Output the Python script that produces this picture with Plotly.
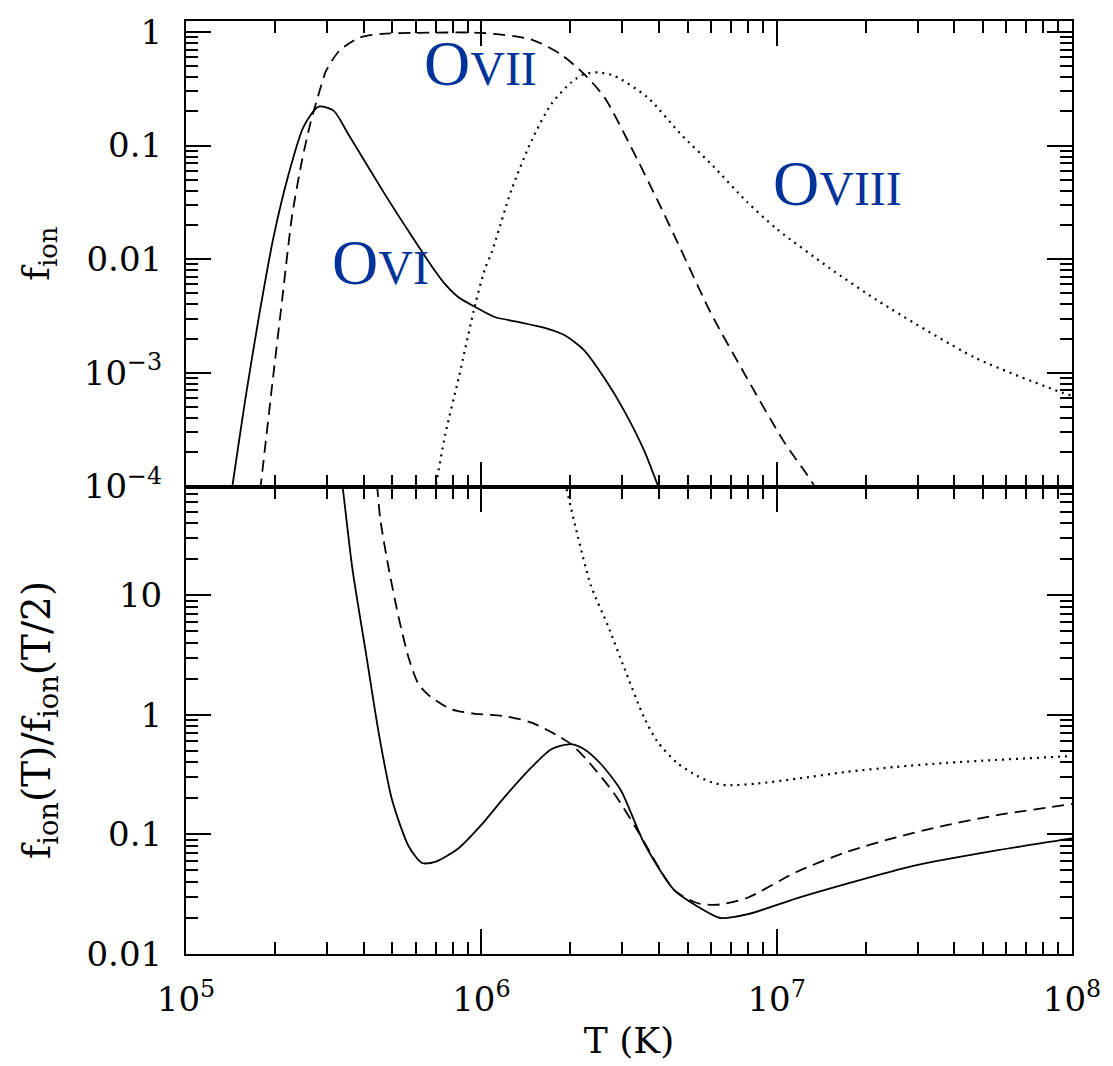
import plotly.graph_objects as go

# ---------------- data ----------------
# Top panel: ionisation fraction f_ion(T)
T_ovi = [1.40e5, 1.435e5, 1.59e5, 1.77e5, 1.98e5, 2.23e5, 2.50e5, 2.81e5, 3.16e5, 3.55e5,
         4.71e5, 5.81e5, 6.81e5, 7.55e5, 8.37e5, 9.53e5, 1.11e6, 1.33e6, 1.64e6, 1.91e6,
         2.23e6, 2.61e6, 3.05e6, 3.56e6, 3.94e6, 4.2e6]
f_ovi = [6.6e-5, 1.0e-4, 6.0e-4, 3.24e-3, 0.0158, 0.057, 0.146, 0.22, 0.203, 0.125,
         0.0374, 0.016, 8.6e-3, 6.0e-3, 4.63e-3, 3.8e-3, 3.1e-3, 2.81e-3, 2.49e-3, 2.15e-3,
         1.58e-3, 9.0e-4, 4.61e-4, 2.07e-4, 1.06e-4, 7.0e-5]

T_ovii = [1.75e5, 1.789e5, 1.959e5, 2.118e5, 2.286e5, 2.472e5, 2.636e5, 2.82e5, 2.98e5, 3.30e5,
          3.85e5, 4.61e5, 5.98e5, 1.0e6, 1.48e6, 1.86e6, 2.23e6, 2.61e6, 3.21e6, 3.94e6,
          4.85e6, 5.96e6, 7.93e6, 1.054e7, 1.327e7, 1.41e7]
f_ovii = [6.3e-5, 1.0e-4, 7.94e-4, 4.47e-3, 0.024, 0.0746, 0.156, 0.29, 0.454, 0.679,
          0.887, 0.962, 0.98, 0.98, 0.857, 0.634, 0.425, 0.266, 0.0975, 0.0334,
          0.0107, 3.43e-3, 9.0e-4, 2.52e-4, 1.06e-4, 7.6e-5]

T_oviii = [6.84e5, 7.0e5, 7.08e5, 7.55e5, 8.38e5, 9.53e5, 1.028e6, 1.084e6, 1.265e6, 1.48e6,
           1.726e6, 2.014e6, 2.23e6, 2.48e6, 2.82e6, 3.65e6, 4.72e6, 6.12e6, 7.93e6, 1.0e7,
           1.507e7, 2.22e7, 4.71e7, 9.25e7, 1.0e8]
f_oviii = [8.0e-5, 1.0e-4, 1.17e-4, 2.88e-4, 9.0e-4, 3.98e-3, 8.2e-3, 0.0115, 0.0408, 0.111,
           0.232, 0.359, 0.425, 0.44, 0.411, 0.266, 0.127, 0.0652, 0.032, 0.0185,
           8.4e-3, 4.25e-3, 1.355e-3, 6.7e-4, 6.3e-4]

# Bottom panel: ratio f_ion(T)/f_ion(T/2)
T_r_ovi = [3.31e5, 3.39e5, 3.66e5, 4.06e5, 4.50e5, 4.99e5, 5.68e5, 6.30e5, 7.06e5, 8.38e5,
           1.0e6, 1.20e6, 1.48e6, 1.726e6, 2.014e6, 2.23e6, 2.54e6, 2.97e6, 3.56e6, 4.49e6,
           5.38e6, 6.44e6, 7.93e6, 1.167e7, 1.72e7, 2.88e7, 5.62e7, 1.0e8]
r_ovi = [125, 81, 16.6, 3.37, 0.689, 0.193, 0.0793, 0.0577, 0.0596, 0.0767,
         0.120, 0.206, 0.365, 0.516, 0.569, 0.516, 0.388, 0.233, 0.0843, 0.0344,
         0.0251, 0.020, 0.0214, 0.0292, 0.0386, 0.0544, 0.0738, 0.0927]

T_r_ovii = [4.37e5, 4.44e5, 4.55e5, 4.86e5, 5.26e5, 5.68e5, 6.14e5, 6.79e5, 7.94e5, 9.53e5,
            1.2e6, 1.48e6, 1.82e6, 2.014e6, 2.29e6, 2.82e6, 3.37e6, 4.49e6, 5.38e6, 6.28e6,
            7.93e6, 1.167e7, 1.72e7, 2.54e7, 3.73e7, 5.51e7, 1.0e8]
r_ovii = [120, 81, 43, 16.6, 6.37, 2.97, 1.79, 1.39, 1.11, 1.02,
          0.975, 0.861, 0.667, 0.569, 0.413, 0.219, 0.109, 0.0344, 0.0267, 0.0258,
          0.0294, 0.0485, 0.0711, 0.0946, 0.119, 0.144, 0.18]

T_r_oviii = [1.905e6, 1.936e6, 2.12e6, 2.35e6, 2.68e6, 3.05e6, 3.56e6, 3.94e6, 4.6e6, 5.38e6,
             6.04e6, 6.79e6, 8.57e6, 1.167e7, 1.72e7, 2.54e7, 3.73e7, 5.51e7, 1.0e8]
r_oviii = [100, 81, 31.3, 12.0, 5.61, 2.45, 0.946, 0.60, 0.396, 0.309,
           0.272, 0.258, 0.266, 0.292, 0.333, 0.367, 0.396, 0.419, 0.452]

# tick labels
x_tickvals = [1e5, 1e6, 1e7, 1e8]
x_ticktext = ["10<sup>5</sup>", "10<sup>6</sup>", "10<sup>7</sup>", "10<sup>8</sup>"]
ytop_tickvals = [1e-4, 1e-3, 1e-2, 1e-1, 1]
ytop_ticktext = ["10<sup>\u22124</sup>", "10<sup>\u22123</sup>", "0.01", "0.1", "1"]
ybot_tickvals = [0.01, 0.1, 1, 10]
ybot_ticktext = ["0.01", "0.1", "1", "10"]

ion_labels = ["O<span style='font-size:48px'>VI</span>",
              "O<span style='font-size:48px'>VII</span>",
              "O<span style='font-size:48px'>VIII</span>"]

# ---------------- figure ----------------
SOLID = dict(color="black", width=1.8, shape="spline", smoothing=0.7)
DASH = dict(color="black", width=1.8, dash="12px,7px", shape="spline", smoothing=0.7)
DOT = dict(color="black", width=2.2, dash="2px,5px", shape="spline", smoothing=0.7)

fig = go.Figure()
fig.add_trace(go.Scatter(x=T_ovi, y=f_ovi, mode="lines", line=SOLID, xaxis="x2", yaxis="y2"))
fig.add_trace(go.Scatter(x=T_ovii, y=f_ovii, mode="lines", line=DASH, xaxis="x2", yaxis="y2"))
fig.add_trace(go.Scatter(x=T_oviii, y=f_oviii, mode="lines", line=DOT, xaxis="x2", yaxis="y2"))
fig.add_trace(go.Scatter(x=T_r_ovi, y=r_ovi, mode="lines", line=SOLID, xaxis="x", yaxis="y"))
fig.add_trace(go.Scatter(x=T_r_ovii, y=r_ovii, mode="lines", line=DASH, xaxis="x", yaxis="y"))
fig.add_trace(go.Scatter(x=T_r_oviii, y=r_oviii, mode="lines", line=DOT, xaxis="x", yaxis="y"))

TICKFONT = dict(family="DejaVu Serif", size=34, color="black")


def minor_vals(e0, e1):
    return [k * 10.0 ** e for e in range(e0, e1 + 1) for k in range(2, 10)]


common = dict(showline=True, linecolor="black", linewidth=2, mirror="allticks",
              ticks="inside", ticklen=25, tickwidth=1.5, tickcolor="black",
              showgrid=False, zeroline=False, tickfont=TICKFONT)

split = 472 / 942

fig.update_layout(
    width=1113, height=1066,
    margin=dict(l=186, r=36, t=13, b=111),
    paper_bgcolor="white", plot_bgcolor="white",
    showlegend=False,
    xaxis=dict(type="log", range=[5, 8], anchor="y", domain=[0, 1],
               tickmode="array", tickvals=x_tickvals, ticktext=x_ticktext,
               ticklabelstandoff=14,
               minor=dict(tickmode="array", tickvals=minor_vals(5, 7), ticks="inside",
                          ticklen=12, tickwidth=1.5, tickcolor="black"),
               title=dict(text="T (K)", font=dict(family="DejaVu Serif", size=36, color="black"),
                          standoff=10),
               **common),
    yaxis=dict(type="log", range=[-2, 1.909], anchor="x", domain=[0, split],
               tickmode="array", tickvals=ybot_tickvals, ticktext=ybot_ticktext,
               ticklabelstandoff=15,
               minor=dict(tickmode="array", tickvals=minor_vals(-2, 1), ticks="inside",
                          ticklen=12, tickwidth=1.5, tickcolor="black"),
               **common),
    xaxis2=dict(type="log", range=[5, 8], anchor="y2", domain=[0, 1], matches="x",
                tickmode="array", tickvals=x_tickvals, showticklabels=False,
                minor=dict(tickmode="array", tickvals=minor_vals(5, 7), ticks="inside",
                           ticklen=12, tickwidth=1.5, tickcolor="black"),
                **common),
    yaxis2=dict(type="log", range=[-4, 0.096], anchor="x2", domain=[split, 1],
                tickmode="array", tickvals=ytop_tickvals, ticktext=ytop_ticktext,
                ticklabelstandoff=15,
                minor=dict(tickmode="array", tickvals=minor_vals(-4, 0), ticks="inside",
                           ticklen=12, tickwidth=1.5, tickcolor="black"),
                **common),
)

LABEL_FONT = dict(family="Liberation Serif", size=64, color="#003399")
label_pos = [(5.66, -2.09), (5.997, -0.366), (7.205, -1.42)]
label_shift = [7, 10, 10]
for txt, (lx, ly), dy in zip(ion_labels, label_pos, label_shift):
    fig.add_annotation(x=lx, y=ly, xref="x2", yref="y2", text=txt, showarrow=False,
                       font=LABEL_FONT, xanchor="center", yanchor="middle", yshift=dy)

TITLE_FONT = dict(family="DejaVu Serif", size=39, color="black")
fig.add_annotation(x=0, y=(1 + split) / 2, xref="paper", yref="paper", xshift=-147,
                   text="f<sub>ion</sub>", textangle=-90, showarrow=False,
                   font=dict(family="DejaVu Serif", size=37, color="black"),
                   xanchor="center", yanchor="middle")
fig.add_annotation(x=0, y=split / 2, xref="paper", yref="paper", xshift=-147,
                   text="f<sub>ion</sub>(T)/f<sub>ion</sub>(T/2)", textangle=-90, showarrow=False,
                   font=TITLE_FONT, xanchor="center", yanchor="middle")

fig.write_html("out.html")
